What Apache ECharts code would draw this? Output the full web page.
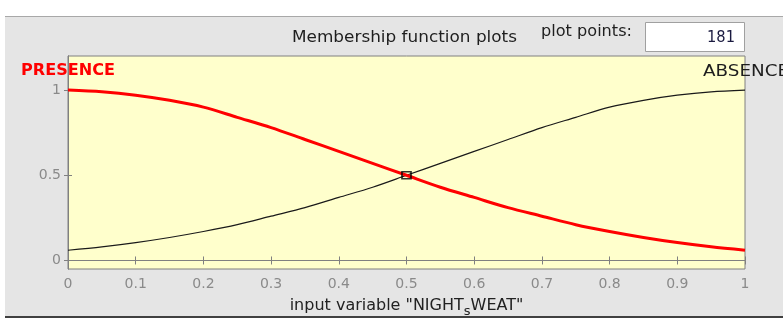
<!DOCTYPE html>
<html>
<head>
<meta charset="utf-8">
<script src="https://cdn.jsdelivr.net/npm/echarts@6/dist/echarts.min.js"></script>
<style>
html,body{margin:0;padding:0;background:#ffffff;}
#chart{width:783px;height:320px;}
</style>
</head>
<body>
<div id="chart"></div>
<script>
// ---- data ----
var xValues = [0,0.05,0.1,0.15,0.2,0.25,0.3,0.35,0.4,0.45,0.5,0.55,0.6,0.65,0.7,0.75,0.8,0.85,0.9,0.95,1];
var presence = [1.00,0.99,0.97,0.94,0.90,0.84,0.78,0.71,0.64,0.57,0.50,0.43,0.37,0.31,0.26,0.21,0.17,0.135,0.105,0.08,0.06];
var absence  = [0.06,0.08,0.105,0.135,0.17,0.21,0.26,0.31,0.37,0.43,0.50,0.57,0.64,0.71,0.78,0.84,0.90,0.94,0.97,0.99,1.00];
var markerX = [0.5];
var markerY = [0.5];
var yTicks = [0, 0.5, 1];
var mfNames = ['PRESENCE', 'ABSENCE'];
var titleText = 'Membership function plots';
var plotPointsLabel = 'plot points:';
var plotPointsValue = '181';
var xAxisNameParts = ['input variable "NIGHT', 's', 'WEAT"'];

// ---- helpers ----
var FONT = '"DejaVu Sans", "Liberation Sans", sans-serif';
var ctx = document.createElement('canvas').getContext('2d');
function measure(text, size, weight) {
  ctx.font = (weight || 'normal') + ' ' + size + 'px ' + FONT;
  return ctx.measureText(text).width;
}
function stretchedText(text, left, targetWidth, cy, size, color, weight) {
  var w = measure(text, size, weight);
  var s = targetWidth / w;
  return {
    type: 'text', x: left, y: cy, scaleX: s, scaleY: 1, z: 20,
    style: {
      text: text, fill: color,
      font: (weight || 'normal') + ' ' + size + 'px ' + FONT,
      textAlign: 'left', textVerticalAlign: 'middle',
      align: 'left', verticalAlign: 'middle'
    }
  };
}

var chart = echarts.init(document.getElementById('chart'), null, {renderer: 'canvas'});

var pairs = function (ys) { return xValues.map(function (x, i) { return [x, ys[i]]; }); };

var tickColor = '#808080';
var labelColor = '#8a8a8a';

var option = {
  animation: false,
  backgroundColor: '#ffffff',
  grid: {
    left: 68, top: 56, width: 677, height: 213,
    show: true, backgroundColor: '#ffffcc', borderColor: '#808080', borderWidth: 1,
    containLabel: false, outerBoundsMode: 'none'
  },
  xAxis: [{
    type: 'value', position: 'bottom', min: 0, max: 1, interval: 0.1,
    axisLine: {show: true, lineStyle: {color: tickColor}},
    axisTick: {show: true, inside: true, length: 4, lineStyle: {color: tickColor}},
    splitLine: {show: false},
    axisLabel: {
      color: labelColor, fontSize: 14, fontFamily: FONT, margin: 8,
      formatter: function (v) { return String(Math.round(v * 10) / 10); }
    },
    name: '{a|' + xAxisNameParts[0] + '}{s|' + xAxisNameParts[1] + '}{a|' + xAxisNameParts[2] + '}',
    nameLocation: 'middle', nameGap: 24,
    nameTextStyle: {
      rich: {
        a: {fontSize: 16, fontFamily: FONT, color: '#222222'},
        s: {fontSize: 13, fontFamily: FONT, color: '#222222', padding: [12, 0, 0, 0]}
      }
    }
  }, {
    type: 'value', position: 'top', min: 0, max: 1, interval: 0.1,
    axisLine: {show: true, lineStyle: {color: tickColor}},
    axisTick: {show: true, inside: true, length: 4, lineStyle: {color: tickColor}},
    axisLabel: {show: false}, splitLine: {show: false}
  }],
  yAxis: [{
    type: 'value', position: 'left', min: -0.05, max: 1.2,
    axisLine: {show: true, lineStyle: {color: tickColor}},
    axisTick: {show: true, inside: true, length: 4, customValues: yTicks, lineStyle: {color: tickColor}},
    axisLabel: {color: labelColor, fontSize: 14, fontFamily: FONT, margin: 7, customValues: yTicks,
      formatter: function (v) { return String(v); }},
    splitLine: {show: false}
  }, {
    type: 'value', position: 'right', min: -0.05, max: 1.2,
    axisLine: {show: true, lineStyle: {color: tickColor}},
    axisTick: {show: true, inside: true, length: 4, customValues: yTicks, lineStyle: {color: tickColor}},
    axisLabel: {show: false}, splitLine: {show: false}
  }],
  series: [{
    name: mfNames[1], type: 'line', xAxisIndex: 0, yAxisIndex: 0,
    data: pairs(absence), showSymbol: false, smooth: 0.3,
    lineStyle: {color: '#1a1a1a', width: 1.2}, z: 3
  }, {
    name: mfNames[0], type: 'line', xAxisIndex: 0, yAxisIndex: 0,
    data: pairs(presence), showSymbol: false, smooth: 0.3,
    lineStyle: {color: '#ff0000', width: 3}, z: 4
  }, {
    type: 'scatter', xAxisIndex: 0, yAxisIndex: 0,
    data: markerX.map(function (x, i) { return [x, markerY[i]]; }),
    symbol: 'rect', symbolSize: [9, 7],
    itemStyle: {color: 'rgba(0,0,0,0)', borderColor: '#000000', borderWidth: 1.5}, z: 5
  }],
  graphic: [
    // window chrome
    {type: 'rect', shape: {x: 5, y: 17, width: 778, height: 299}, style: {fill: '#e5e5e5'}, z: -10, silent: true},
    {type: 'rect', shape: {x: 5, y: 16, width: 778, height: 1}, style: {fill: '#a8a8a8'}, z: -9, silent: true},
    {type: 'rect', shape: {x: 5, y: 316, width: 778, height: 2}, style: {fill: '#404040'}, z: -9, silent: true},
    // plot points box
    {type: 'rect', shape: {x: 645.5, y: 22.5, width: 99, height: 29}, style: {fill: '#ffffff', stroke: '#a0a0a0', lineWidth: 1}, z: 10},
    stretchedText(titleText, 292, 225, 38, 15, '#1e1e1e'),
    stretchedText(plotPointsLabel, 541, 91, 32, 15, '#1e1e1e'),
    stretchedText(plotPointsValue, 707, 28, 38, 15, '#1a1a40'),
    stretchedText(mfNames[0], 21, 94, 71, 15, '#ff0000', 'bold'),
    stretchedText(mfNames[1], 703, 86, 72, 15, '#1e1e1e')
  ]
};
chart.setOption(option);
</script>
</body>
</html>
